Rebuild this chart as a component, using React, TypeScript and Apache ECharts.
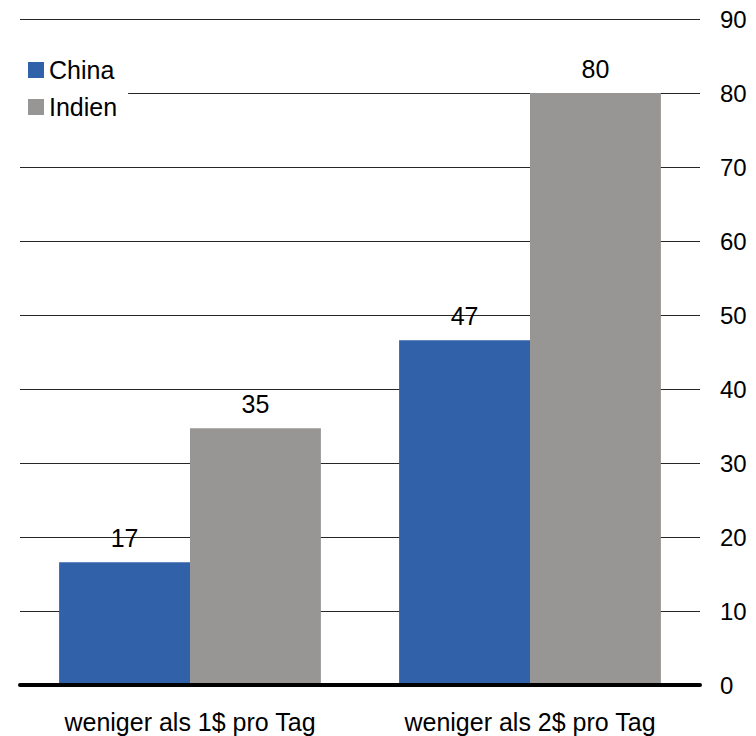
import React, { useEffect, useRef } from "react";
import * as echarts from "echarts";

const categories = ["weniger als 1$ pro Tag", "weniger als 2$ pro Tag"];
const seriesNames = ["China", "Indien"];
const chinaValues = [16.6, 46.6];
const indienValues = [34.7, 80];
const yTicks = { min: 0, max: 90, interval: 10 };

const FONT = "'Liberation Sans', Arial, sans-serif";

export default function App() {
  const ref = useRef<HTMLDivElement>(null);
  useEffect(() => {
    if (!ref.current) return;
    const chart = echarts.init(ref.current, undefined, { renderer: "svg" });
    const label = {
      show: true,
      position: "top",
      distance: 12,
      color: "#000",
      fontSize: 25,
      fontFamily: FONT,
      formatter: (p: any) => String(Math.round(p.value)),
    };
    chart.setOption({
      animation: false,
      backgroundColor: "#fff",
      textStyle: { fontFamily: FONT },
      grid: { left: 20, right: 56, top: 19, bottom: 51, containLabel: false },
      legend: {
        orient: "vertical",
        left: 20,
        top: 48,
        padding: [8, 11, 8, 8],
        backgroundColor: "#fff",
        itemWidth: 16,
        itemHeight: 16,
        itemGap: 9,
        icon: "rect",
        textStyle: { fontSize: 25, lineHeight: 28, color: "#000", fontFamily: FONT },
        data: seriesNames,
        z: 10,
      },
      xAxis: {
        type: "category",
        data: categories,
        axisTick: { show: false },
        axisLine: { lineStyle: { color: "#000", width: 4 } },
        axisLabel: { color: "#000", fontSize: 25, margin: 24, fontFamily: FONT },
        z: 5,
      },
      yAxis: {
        type: "value",
        position: "right",
        min: yTicks.min,
        max: yTicks.max,
        interval: yTicks.interval,
        axisLine: { show: false },
        axisTick: { show: false },
        axisLabel: { color: "#000", fontSize: 24, margin: 20, fontFamily: FONT },
        splitLine: { lineStyle: { color: "#262626", width: 1 } },
      },
      series: [
        {
          name: seriesNames[0],
          type: "bar",
          data: chinaValues,
          itemStyle: { color: "#3161A9" },
          barGap: "0%",
          barCategoryGap: "23%",
          label,
        },
        {
          name: seriesNames[1],
          type: "bar",
          data: indienValues,
          itemStyle: { color: "#979694" },
          barGap: "0%",
          barCategoryGap: "23%",
          label,
        },
      ],
    });
    return () => chart.dispose();
  }, []);
  return <div ref={ref} style={{ width: 756, height: 736, position: "absolute", left: 0, top: 0 }} />;
}
